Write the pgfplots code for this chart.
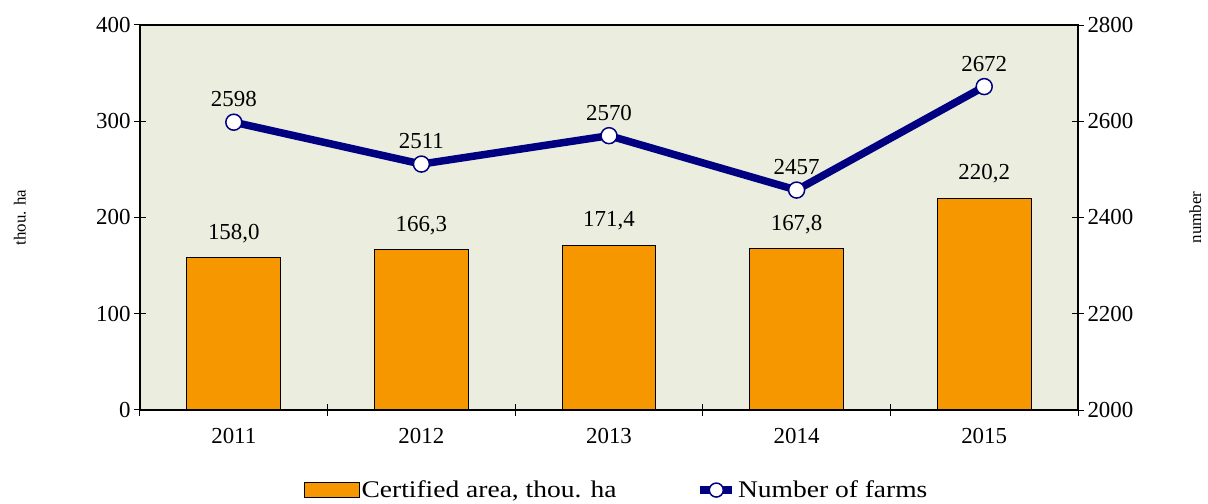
\documentclass[border=0pt]{standalone}
\usepackage{pgfplots}
\pgfplotsset{compat=1.18}
\usepackage{fontspec}
\setmainfont{Liberation Serif}
\newfontfamily\legfont[FakeStretch=1.15]{Liberation Serif}
\definecolor{bgc}{HTML}{EBEEDF}
\definecolor{barc}{HTML}{F79700}
\definecolor{linec}{HTML}{000080}
\pgfplotsset{/pgf/number format/1000 sep={}, /pgf/number format/assume math mode=true}
\pgfplotstableread{
x y lab
0 158.0 158,0
1 166.3 166,3
2 171.4 171,4
3 167.8 167,8
4 220.2 220,2
}\areadata
\begin{document}
\begin{tikzpicture}[font=\fontsize{23}{27}\selectfont]
\begin{axis}[
  name=main,
  scale only axis, width=938bp, height=385bp,
  xmin=-0.5, xmax=4.5, ymin=0, ymax=400,
  xtick={-0.5,0.5,1.5,2.5,3.5,4.5},
  x tick label as interval,
  xticklabels={2011,2012,2013,2014,2015},
  xticklabel style={yshift=-9bp},
  ytick={0,100,200,300,400},
  xtick pos=bottom, ytick pos=left,
  major tick length=12bp,
  every tick/.style={black, line width=1pt},
  axis line style={line width=1.2pt},
  axis background/.style={fill=bgc},
  ylabel={thou. ha},
  y label style={at={(axis description cs:-0.128,0.5)}, anchor=center, rotate=0, font=\fontsize{17}{20}\selectfont},
  ybar, bar width=0.5,
  nodes near coords, point meta=explicit symbolic,
  every node near coord/.append style={anchor=center, yshift=24bp, text=black},
  xtick align=center, ytick align=center,
]
\addplot[fill=barc, draw=black, line width=1pt] table[x=x, y=y, meta=lab] {\areadata};
\end{axis}
\begin{axis}[
  scale only axis, width=938bp, height=385bp,
  xmin=-0.5, xmax=4.5, ymin=2000, ymax=2800,
  axis y line*=right, axis x line=none,
  ytick={2000,2200,2400,2600,2800},
  tick align=center, major tick length=12bp,
  every tick/.style={black, line width=0.8pt},
  axis line style={line width=0.8pt},
  ylabel={number},
  y label style={at={(axis description cs:1.125,0.5)}, anchor=center, rotate=0, font=\fontsize{17}{20}\selectfont},
  legend style={at={(0.508,-0.208)}, anchor=center, draw=none, fill=none, legend columns=2,
    font=\legfont\fontsize{24}{27}\selectfont,
    /tikz/every even column/.append style={column sep=78bp}},
  legend cell align=left,
]
\addlegendimage{legend image code/.code={\draw[fill=barc,draw=black,line width=1pt] (0bp,-7bp) rectangle (55bp,8bp);}}
\addlegendentry{Certified area, thou. ha}
\addplot[linec, line width=7.5bp, mark=*, mark size=8bp,
  mark options={fill=white, draw=linec, line width=1.5bp},
  nodes near coords,
  every node near coord/.append style={anchor=center, yshift=23bp, text=black},
  legend image code/.code={\draw[linec, line width=7.5bp] (0bp,0bp) -- (32bp,0bp); \draw[linec, fill=white, line width=1.5bp] (16bp,0bp) circle (7bp);}
] coordinates {(0,2598) (1,2511) (2,2570) (3,2457) (4,2672)};
\addlegendentry{Number of farms}
\end{axis}
\pgfresetboundingbox
\path[use as bounding box] ([shift={(-140bp,-94bp)}]main.south west) rectangle ([shift={(130bp,25bp)}]main.north east);
\end{tikzpicture}
\end{document}
